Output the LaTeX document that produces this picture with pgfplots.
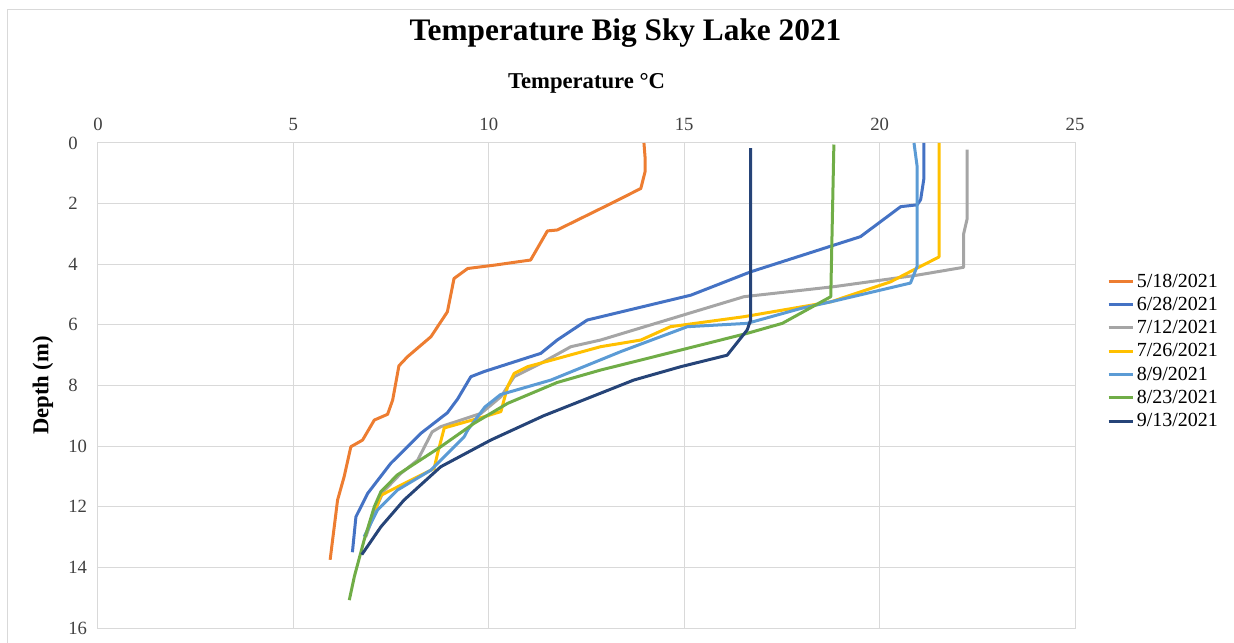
\documentclass[border=0pt]{standalone}
\usepackage{fontspec}
\setmainfont{Liberation Serif}
\usepackage{pgfplots}
\pgfplotsset{compat=1.18}

\definecolor{cMay}{HTML}{ED7D31}
\definecolor{cJunB}{HTML}{4472C4}
\definecolor{cJulA}{HTML}{A5A5A5}
\definecolor{cJulB}{HTML}{FFC000}
\definecolor{cAugA}{HTML}{5B9BD5}
\definecolor{cAugB}{HTML}{70AD47}
\definecolor{cSep}{HTML}{264478}
\definecolor{gridgray}{HTML}{D9D9D9}
\definecolor{ticktext}{HTML}{404040}

\begin{document}
\begin{tikzpicture}
% 1 px of the reference = 0.75pt; origin = plot area's lower left, (98,628) px
\begin{scope}[x=0.75pt, y=0.75pt]
\path[use as bounding box] (-98,-14) rectangle (1136,628);
\draw[gridgray, line width=0.75pt] (-90,-30) -- (-90,618) -- (1150,618);
\node[font=\bfseries\fontsize{23.5}{26}\selectfont] at (527.5,595) {Temperature Big Sky Lake 2021};
\end{scope}
\begin{axis}[
    scale only axis,
    width=732.75pt, height=363.75pt,
    xmin=0, xmax=25, ymin=0, ymax=16,
    y dir=reverse,
    xtick={0,5,...,25}, ytick={0,2,...,16},
    xticklabel pos=top,
    grid=major,
    major grid style={draw=gridgray, line width=0.75pt},
    axis line style={draw=gridgray, line width=0.75pt},
    tick style={draw=none},
    /pgf/number format/assume math mode=true,
    ticklabel style={font=\fontsize{14}{16}\selectfont, text=ticktext},
    xticklabel shift=6pt,
    yticklabel style={anchor=west, inner sep=0pt, xshift=-22.5pt},
    xlabel={Temperature °C},
    xlabel style={font=\bfseries\fontsize{17}{19}\selectfont, at={(axis description cs:0.5,1)}, anchor=center, yshift=45pt},
    ylabel={Depth (m)},
    ylabel style={font=\bfseries\fontsize{17}{19}\selectfont, at={(axis description cs:-0.0563,0.5)}, anchor=center},
    every axis plot/.append style={line width=2.25pt, line join=round},
    legend cell align=left,
    legend style={draw=none, fill=none, at={(axis description cs:1.0285,0.742)}, anchor=north west,
        font=\fontsize{15}{17}\selectfont, row sep=2pt},
    legend image code/.code={\draw[#1, line width=2.25pt] (0pt,0pt) -- (18pt,0pt);},
]
\addplot[cMay] coordinates {
 (13.97,0) (14.0,0.5) (14.0,0.94) (13.89,1.5) (13.2,1.95) (11.75,2.87) (11.5,2.9)
 (11.07,3.86) (10.14,4.03) (9.46,4.14) (9.11,4.47) (8.94,5.57) (8.52,6.39) (7.92,7.05)
 (7.7,7.35) (7.54,8.48) (7.41,8.95) (7.07,9.14) (6.77,9.8) (6.47,10.02) (6.3,11.0)
 (6.13,11.78) (5.94,13.75)
};
\addlegendentry{5/18/2021}
\addplot[cJunB] coordinates {
 (21.13,0) (21.13,1.2) (21.05,1.87) (20.96,2.04) (20.54,2.1) (19.51,3.09) (18.83,3.37)
 (16.7,4.25) (15.17,5.02) (12.52,5.84) (11.75,6.5) (11.33,6.94) (9.88,7.54) (9.54,7.71)
 (9.2,8.45) (8.94,8.9) (8.26,9.58) (7.49,10.57) (6.9,11.56) (6.6,12.33) (6.51,13.5)
};
\addlegendentry{6/28/2021}
\addplot[cJulA] coordinates {
 (22.24,0.22) (22.24,2.5) (22.15,3.0) (22.15,4.1) (20.96,4.36) (18.83,4.74) (16.53,5.07)
 (12.86,6.5) (12.1,6.72) (11.33,7.27) (10.65,7.71) (10.31,8.37) (9.8,8.92) (8.77,9.36)
 (8.55,9.53) (8.18,10.46) (7.75,10.9) (7.3,11.5) (7.1,12.1) (6.85,13.0)
};
\addlegendentry{7/12/2021}
\addplot[cJulB] coordinates {
 (21.52,0) (21.52,3.76) (20.88,4.18) (20.28,4.58) (18.75,5.24) (16.53,5.73) (14.65,6.06)
 (13.89,6.5) (12.86,6.72) (10.99,7.38) (10.65,7.6) (10.48,8.04) (10.31,8.86) (9.88,9.03)
 (8.86,9.4) (8.69,10.24) (8.6,10.74) (7.92,11.18) (7.24,11.62) (7.1,12.1)
};
\addlegendentry{7/26/2021}
\addplot[cAugA] coordinates {
 (20.88,0) (20.96,0.77) (20.96,4.07) (20.79,4.62) (18.75,5.24) (17.98,5.46) (16.61,5.95)
 (15.08,6.06) (13.38,6.88) (11.59,7.82) (10.3,8.3) (9.9,8.71) (9.46,9.47) (9.37,9.69)
 (8.52,10.79) (7.66,11.45) (7.15,12.11) (6.81,12.99)
};
\addlegendentry{8/9/2021}
\addplot[cAugB] coordinates {
 (18.83,0.05) (18.75,5.07) (17.51,5.95) (16.61,6.28) (13.89,7.16) (12.86,7.49) (11.75,7.9)
 (10.48,8.59) (9.62,9.25) (8.77,10.02) (7.66,10.95) (7.24,11.5) (7.07,12.0) (6.81,13.1)
 (6.56,14.3) (6.43,15.08)
};
\addlegendentry{8/23/2021}
\addplot[cSep] coordinates {
 (16.7,0.17) (16.7,5.84) (16.61,6.17) (16.1,7.0) (14.91,7.38) (13.71,7.82) (11.4,9.0)
 (10.05,9.8) (8.77,10.68) (7.83,11.78) (7.24,12.66) (6.75,13.58)
};
\addlegendentry{9/13/2021}
\end{axis}
\end{tikzpicture}
\end{document}
